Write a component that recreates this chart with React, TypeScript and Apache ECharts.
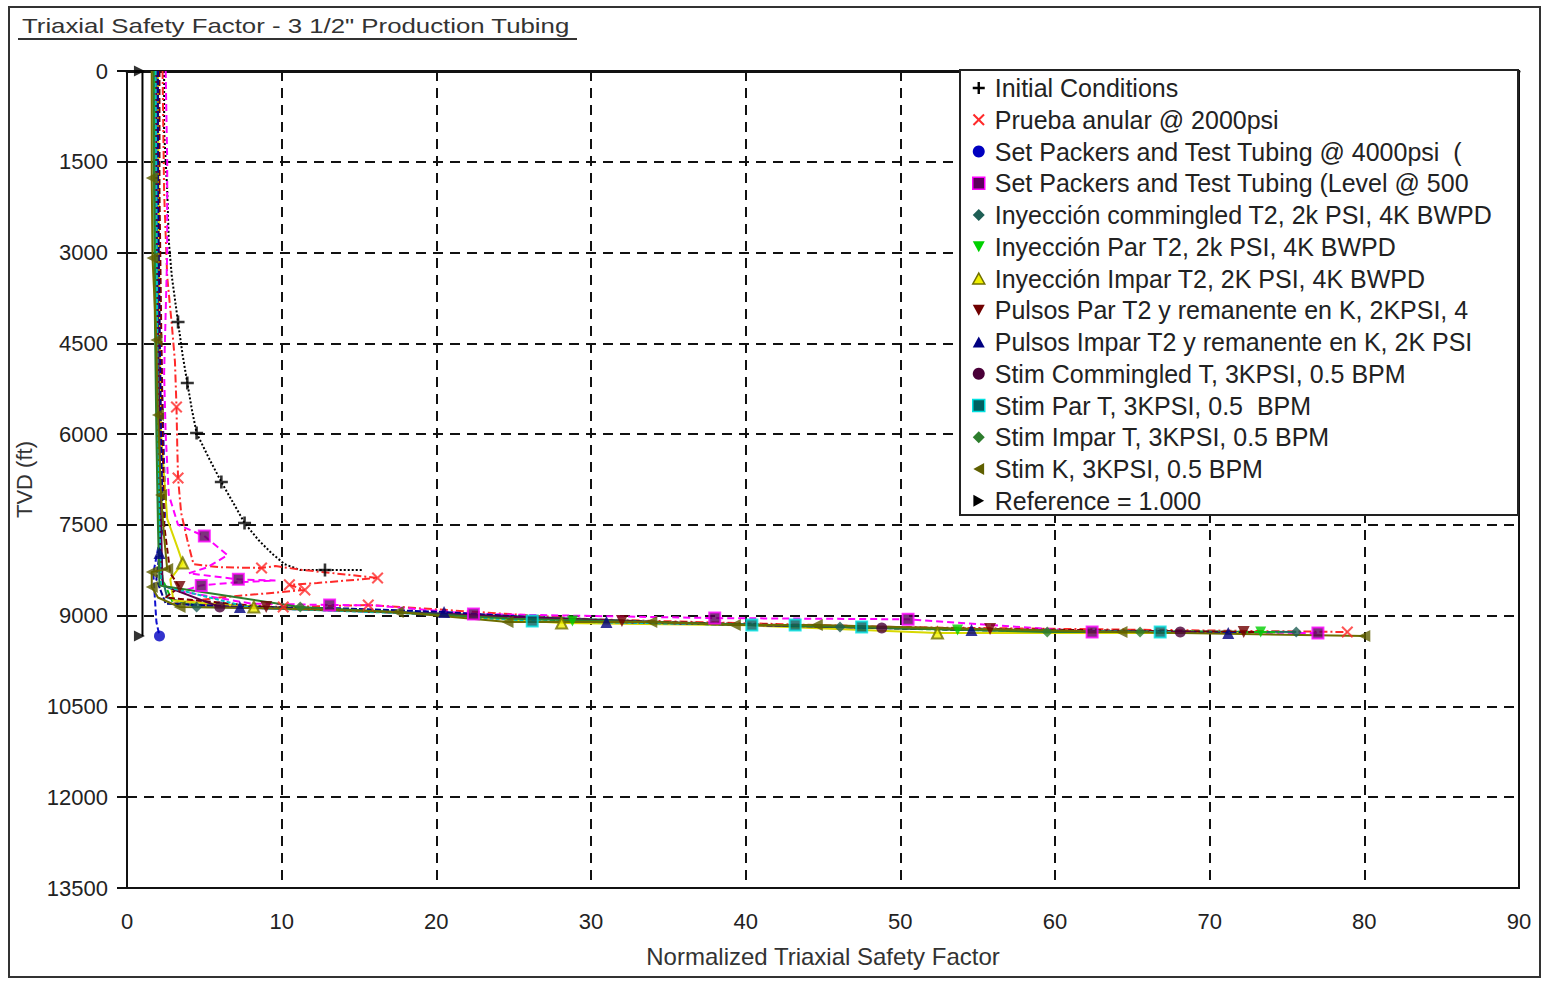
import React, { useEffect, useRef } from "react";
import * as echarts from "echarts";

const FONT = "'Liberation Sans', Arial, sans-serif";

// ---------- tick settings ----------
const xTicks = { min: 0, max: 90, interval: 10 };
const yTicks = { min: 0, max: 13500, interval: 1500 };

// ---------- series names ----------
const seriesNames = [
  "Initial Conditions",
  "Prueba anular @ 2000psi",
  "Set Packers and Test Tubing @ 4000psi  (",
  "Set Packers and Test Tubing (Level @ 500",
  "Inyección commingled T2, 2k PSI, 4K BWPD",
  "Inyección Par T2, 2k PSI, 4K BWPD",
  "Inyección Impar T2, 2K PSI, 4K BWPD",
  "Pulsos Par T2 y remanente en K, 2KPSI, 4",
  "Pulsos Impar T2 y remanente en K, 2K PSI",
  "Stim Commingled T, 3KPSI, 0.5 BPM",
  "Stim Par T, 3KPSI, 0.5  BPM",
  "Stim Impar T, 3KPSI, 0.5 BPM",
  "Stim K, 3KPSI, 0.5 BPM",
  "Reference = 1.000",
];

// ---------- data: [safety factor, TVD ft] ----------
const initialPath = [[2.4,0],[2.4,1000],[2.6,1966],[2.7,2800],[2.9,3400],[3.3,4147],[3.6,4700],[3.9,5155],[4.2,5600],[4.5,5982],[5.3,6400],[6.1,6791],[6.9,7150],[7.6,7469],[8.5,7750],[9.4,7980],[10.2,8150],[11.2,8245],[12.8,8245],[15.2,8245]];
const initialMarks = [[3.3,4147],[3.9,5155],[4.5,5982],[6.1,6791],[7.6,7469],[12.8,8245]];

const pruebaPath = [[2.3,0],[2.4,2000],[2.6,3400],[2.9,4200],[3.1,4800],[3.2,5552],[3.25,6200],[3.3,6725],[3.5,7300],[3.9,7750],[4.3,8150],[6.0,8200],[8.7,8212],[9.6,8180],[11.2,8240],[16.2,8377],[12.3,8460],[10.5,8490],[11.5,8576],[6.0,8700],[3.0,8800],[10.1,8857],[15.6,8824],[30,9060],[50,9190],[78.9,9270]];
const pruebaMarks = [[3.2,5552],[3.3,6725],[8.7,8212],[10.5,8490],[11.5,8576],[16.2,8377],[10.1,8857],[15.6,8824],[78.9,9270]];

const packers4000Path = [[1.9,0],[1.95,1500],[2.0,3000],[2.1,4000],[2.2,4500],[2.3,5500],[2.4,6500],[2.5,7200],[2.4,7500],[2.0,7900],[1.7,8300],[1.8,8700],[1.9,9100],[2.1,9336]];
const packers4000Marks = [[2.1,9336]];

const packersLevelPath = [[2.5,0],[2.6,1500],[2.6,3000],[2.5,4000],[2.4,5000],[2.5,6000],[2.7,7000],[3.3,7500],[5.0,7684],[6.5,8000],[5.2,8200],[4.0,8300],[7.2,8400],[9.6,8420],[7.0,8450],[4.8,8500],[3.5,8600],[8.0,8800],[13.1,8824],[16.0,8830],[22.4,8972],[38.0,9040],[50.5,9060],[62.4,9270],[77.0,9286]];
const packersLevelMarks = [[5.0,7684],[7.2,8400],[4.8,8500],[13.1,8824],[22.4,8972],[38.0,9040],[50.5,9060],[62.4,9270],[77.0,9286]];

const inyCommPath = [[1.75,0],[1.8,2000],[1.9,4000],[2.0,6000],[2.1,7500],[2.2,8300],[2.6,8700],[4.5,8857],[10,8870],[20,8960],[35,9110],[46.1,9187],[60,9250],[75.6,9270]];
const inyCommMarks = [[4.5,8857],[46.1,9187],[75.6,9270]];

const inyParPath = [[1.8,0],[1.85,2000],[1.9,4000],[2.0,6000],[2.1,7500],[2.3,8400],[3.0,8800],[12,8880],[20,8980],[28.8,9088],[40,9150],[53.7,9237],[73.3,9270],[74.5,9275]];
const inyParMarks = [[28.8,9088],[53.7,9237],[73.3,9270]];

const inyImparPath = [[2.0,0],[2.05,2000],[2.1,4000],[2.2,6000],[2.6,7400],[3.3,7900],[3.6,8130],[2.8,8400],[3.0,8750],[8.2,8857],[18,8950],[28.1,9121],[40,9160],[52.4,9286],[72,9285]];
const inyImparMarks = [[3.6,8130],[8.2,8857],[28.1,9121],[52.4,9286]];

const pulsosParPath = [[2.1,0],[2.1,2000],[2.2,4000],[2.3,6000],[2.4,7500],[2.8,8300],[3.4,8526],[2.5,8700],[9.0,8857],[20,8980],[32.0,9088],[45,9170],[55.8,9220],[72.2,9270],[73,9272]];
const pulsosParMarks = [[3.4,8526],[9.0,8857],[32.0,9088],[55.8,9220],[72.2,9270]];

const pulsosImparPath = [[2.0,0],[2.0,2000],[2.1,4000],[2.2,6000],[2.3,7300],[2.1,7965],[1.9,8400],[2.5,8800],[7.3,8857],[14,8880],[20.5,8939],[31.0,9105],[45,9180],[54.6,9237],[71.2,9286],[72,9288]];
const pulsosImparMarks = [[2.1,7965],[7.3,8857],[20.5,8939],[31.0,9105],[54.6,9237],[71.2,9286]];

const stimCommPath = [[1.9,0],[1.9,2000],[2.0,4000],[2.1,6000],[2.2,7500],[2.3,8500],[6.0,8857],[20,8970],[35,9120],[48.8,9204],[60,9250],[68.1,9270],[69,9272]];
const stimCommMarks = [[6.0,8857],[48.8,9204],[68.1,9270]];

const stimParPath = [[1.85,0],[1.9,2000],[1.95,4000],[2.0,6000],[2.1,7500],[2.2,8500],[8,8870],[18,8960],[26.2,9088],[40.4,9154],[43.2,9154],[47.5,9187],[60,9250],[66.8,9270],[67.5,9272]];
const stimParMarks = [[26.2,9088],[40.4,9154],[43.2,9154],[47.5,9187],[66.8,9270]];

const stimImparPath = [[1.7,0],[1.75,2000],[1.8,4000],[1.9,6000],[2.0,7500],[2.1,8500],[11.2,8857],[25,9050],[45,9180],[59.5,9270],[65.5,9270],[66,9271]];
const stimImparMarks = [[11.2,8857],[59.5,9270],[65.5,9270]];

const stimKPath = [[1.6,0],[1.6,1768],[1.65,3090],[1.9,4445],[2.0,5684],[2.2,7006],[2.4,7700],[2.6,8230],[1.6,8278],[1.6,8526],[2.0,8700],[3.4,8857],[10,8880],[17.5,8939],[24.6,9105],[33.9,9105],[39.3,9154],[44.6,9154],[55,9220],[64.3,9270],[80.0,9336]];
const stimKMarks = [[1.6,1768],[1.65,3090],[1.9,4445],[2.0,5684],[2.2,7006],[2.6,8230],[1.6,8278],[1.6,8526],[3.4,8857],[17.5,8939],[24.6,9105],[33.9,9105],[39.3,9154],[44.6,9154],[64.3,9270],[80.0,9336]];

const referencePath = [[1,0],[1,9336]];
const referenceMarks = [[1,0],[1,9336]];

const seriesPaths = [initialPath, pruebaPath, packers4000Path, packersLevelPath, inyCommPath, inyParPath, inyImparPath, pulsosParPath, pulsosImparPath, stimCommPath, stimParPath, stimImparPath, stimKPath, referencePath];
const seriesMarks = [initialMarks, pruebaMarks, packers4000Marks, packersLevelMarks, inyCommMarks, inyParMarks, inyImparMarks, pulsosParMarks, pulsosImparMarks, stimCommMarks, stimParMarks, stimImparMarks, stimKMarks, referenceMarks];

// ---------- styles ----------
const PLUS = "path://M4,0H6V4H10V6H6V10H4V6H0V4H4Z";
const CROSS = "path://M1.2,0L5,3.8L8.8,0L10,1.2L6.2,5L10,8.8L8.8,10L5,6.2L1.2,10L0,8.8L3.8,5L0,1.2Z";
const DOWN = "path://M0,0L10,0L5,9Z";
const UP = "path://M5,0L10,9L0,9Z";
const LEFT = "path://M9,0L9,10L0,5Z";
const RIGHT = "path://M0,0L0,10L9,5Z";

const styles = [
  { color: "#000000", symbol: PLUS, size: 13, lineType: "dotted", border: null },
  { color: "#ff2a2a", symbol: CROSS, size: 12, lineType: [8, 3, 2, 3], border: null },
  { color: "#0000c0", symbol: "circle", size: 11, lineType: [6, 3], border: null },
  { color: "#5a005a", symbol: "rect", size: 11, lineType: [7, 4], border: "#ff00ff" },
  { color: "#1f5f55", symbol: "diamond", size: 11, lineType: "solid", border: null },
  { color: "#00d000", symbol: DOWN, size: 11, lineType: [5, 3], border: null },
  { color: "#f0f000", symbol: UP, size: 11, lineType: "solid", border: "#707000" },
  { color: "#700000", symbol: DOWN, size: 12, lineType: [6, 3], border: null },
  { color: "#000080", symbol: UP, size: 12, lineType: [6, 2], border: null },
  { color: "#4a0038", symbol: "circle", size: 11, lineType: "solid", border: null },
  { color: "#006060", symbol: "rect", size: 11, lineType: [4, 2], border: "#00e0e0" },
  { color: "#2d7d2d", symbol: "diamond", size: 11, lineType: "solid", border: null },
  { color: "#5f5f00", symbol: LEFT, size: 12, lineType: "solid", border: null },
  { color: "#000000", symbol: RIGHT, size: 11, lineType: "solid", border: null },
];

const lineColors = ["#000000", "#ff2a2a", "#1010d0", "#ff00ff", "#1f6f60", "#10c010", "#d8d800", "#7a0000", "#000090", "#5a0048", "#00c0c0", "#2d7d2d", "#6d6d00", "#000000"];

export default function App() {
  const ref = useRef<HTMLDivElement>(null);

  useEffect(() => {
    if (!ref.current) return;
    const chart = echarts.init(ref.current, undefined, { renderer: "svg" });

    const series: any[] = [];
    seriesNames.forEach((name, i) => {
      const st = styles[i];
      series.push({
        type: "line",
        name,
        data: seriesPaths[i],
        symbol: "none",
        silent: true,
        z: 2,
        lineStyle: { color: lineColors[i], width: 2, type: st.lineType },
        itemStyle: { color: st.color },
      });
      series.push({
        type: "scatter",
        name,
        data: seriesMarks[i],
        symbol: st.symbol,
        symbolSize: st.size,
        symbolOffset: i === 13 ? [-3, 0] : [0, 0],
        z: 3,
        itemStyle: st.border
          ? { color: st.color, borderColor: st.border, borderWidth: 2 }
          : { color: st.color },
      });
    });

    const legendData = seriesNames.map((name, i) => ({
      name,
      icon: styles[i].symbol,
      itemStyle: styles[i].border
        ? { color: styles[i].color, borderColor: styles[i].border, borderWidth: 1.5 }
        : { color: styles[i].color, borderWidth: 0 },
    }));

    const option: any = {
      animation: false,
      backgroundColor: "#ffffff",
      textStyle: { fontFamily: FONT },
      grid: { left: 127, right: 24, top: 71, bottom: 93, show: true, borderColor: "#111", borderWidth: 2, backgroundColor: "transparent" },
      xAxis: {
        type: "value",
        min: xTicks.min,
        max: xTicks.max,
        interval: xTicks.interval,
        name: "Normalized Triaxial Safety Factor",
        nameLocation: "middle",
        nameGap: 56,
        nameTextStyle: { fontSize: 24, color: "#333", fontFamily: FONT },
        axisLine: { lineStyle: { color: "#111", width: 3 } },
        axisTick: { length: 10, lineStyle: { color: "#111", width: 2 } },
        axisLabel: { fontSize: 22, color: "#222", margin: 22, fontFamily: FONT },
        splitLine: { show: true, lineStyle: { color: "#111", width: 2, type: [10, 7] } },
      },
      yAxis: {
        type: "value",
        inverse: true,
        min: yTicks.min,
        max: yTicks.max,
        interval: yTicks.interval,
        name: "TVD (ft)",
        nameLocation: "middle",
        nameGap: 84,
        nameTextStyle: { fontSize: 22, color: "#333", fontFamily: FONT },
        axisLine: { lineStyle: { color: "#111", width: 2 } },
        axisTick: { length: 10, lineStyle: { color: "#111", width: 2 } },
        axisLabel: { fontSize: 22, color: "#222", margin: 19, fontFamily: FONT, formatter: (v: number) => String(v) },
        splitLine: { show: true, lineStyle: { color: "#111", width: 2, type: [10, 7] } },
      },
      legend: {
        orient: "vertical",
        left: 967,
        top: 70,
        itemWidth: 12,
        itemHeight: 12,
        itemGap: 5.75,
        selectedMode: false,
        z: 10,
        data: legendData,
        textStyle: { fontSize: 25, color: "#222", fontFamily: FONT, lineHeight: 26, padding: [0, 0, 0, 5] },
      },
      graphic: [
        {
          type: "rect",
          z: 1,
          shape: { x: 9, y: 7, width: 1531, height: 970 },
          style: { fill: "none", stroke: "#333", lineWidth: 2 },
          silent: true,
        },
        {
          type: "text",
          z: 1,
          x: 22,
          y: 26,
          scaleX: 1.29,
          style: { text: 'Triaxial Safety Factor - 3 1/2" Production Tubing', font: `20px ${FONT}`, fill: "#333", verticalAlign: "middle" },
        },
        {
          type: "line",
          z: 1,
          shape: { x1: 18, y1: 39, x2: 577, y2: 39 },
          style: { stroke: "#333", lineWidth: 2 },
        },
        {
          type: "rect",
          z: 8,
          shape: { x: 960, y: 70, width: 558, height: 445 },
          style: { fill: "#ffffff", stroke: "#222", lineWidth: 2 },
          silent: true,
        },
      ],
      series,
    };

    chart.setOption(option);
    return () => chart.dispose();
  }, []);

  return (
    <div
      ref={ref}
      style={{ position: "fixed", left: 0, top: 0, width: 1543, height: 981, background: "#fff" }}
    />
  );
}
